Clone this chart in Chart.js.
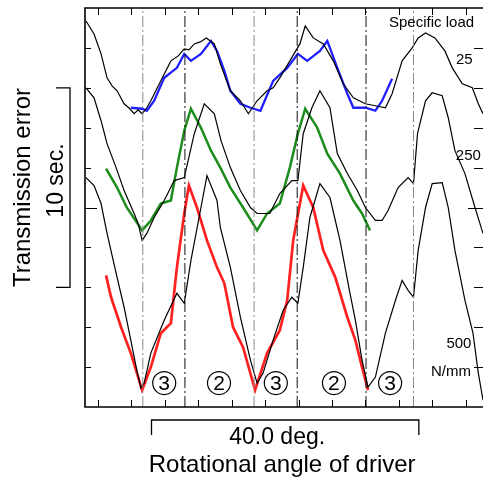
<!DOCTYPE html>
<html>
<head>
<meta charset="utf-8">
<script src="https://cdn.jsdelivr.net/npm/chart.js@4.4.0/dist/chart.umd.min.js"></script>
<style>
html, body { margin: 0; padding: 0; background: #fff; overflow: hidden; }
canvas { display: block; }
</style>
</head>
<body>
<canvas id="chart" width="483" height="479"></canvas>
<script>
// x: rotational angle of driver (deg), y: transmission error (sec)

// measured, specific load 25 N/mm
const load25 = [[-1.8,19.35],[-0.6,18.7],[0.45,17.7],[1.35,16.5],[2.1,16.1],[2.85,15.85],[3.9,15.2],[4.6,15.0],[5.4,14.7],
  [6.0,14.9],[6.6,14.7],[7.3,15.0],[7.9,15.35],[9.4,16.35],[10.9,17.35],[12.0,17.6],[12.9,17.95],[13.6,17.9],[14.4,18.2],
  [15.3,18.3],[16.2,18.5],[17.4,18.2],[18.3,17.2],[19.8,15.85],[21.3,15.35],[22.5,14.7],[23.8,15.35],[25.3,15.85],
  [26.2,16.0],[27.2,16.5],[28.7,17.35],[30.2,18.2],[31.0,19.1],[32.2,18.5],[33.7,18.2],[35.2,17.35],[36.7,16.2],
  [38.2,15.5],[40.0,15.2],[41.5,15.1],[43.0,15.0],[44.0,15.7],[45.5,17.35],[47.0,18.0],[47.9,18.5],[49.0,18.75],
  [50.4,18.5],[51.9,17.85],[53.0,17.0],[54.5,16.2],[56.0,16.0],[56.9,15.2],[57.6,14.7]];

// measured, specific load 250 N/mm
const load250 = [[-1.8,16.0],[-0.6,15.5],[0.45,14.35],[1.35,13.2],[2.7,12.0],[3.9,10.85],[5.4,9.7],[6.0,9.2],[6.6,8.35],
  [7.3,8.7],[8.4,9.5],[9.9,10.35],[11.4,11.35],[12.9,11.5],[14.4,13.7],[15.9,15.2],[17.4,14.7],[18.4,13.35],
  [19.8,12.0],[21.3,10.85],[22.8,10.0],[23.8,9.7],[25.7,9.7],[27.2,10.7],[29.0,11.35],[29.9,11.35],[30.7,13.7],
  [32.0,15.0],[33.2,15.85],[34.7,15.0],[35.8,12.7],[37.3,11.7],[38.8,10.85],[40.0,10.0],[41.5,9.35],[42.5,9.35],
  [43.4,9.85],[44.9,11.0],[46.4,11.5],[47.2,11.2],[47.8,13.7],[49.0,15.35],[50.0,15.75],[51.5,15.6],[52.4,14.5],
  [53.4,12.85],[54.9,11.7],[56.4,10.0],[57.6,8.7]];

// measured, specific load 500 N/mm
const load500 = [[-1.8,11.5],[-0.6,11.1],[0.45,10.2],[1.35,8.7],[2.85,6.5],[3.9,5.0],[4.9,3.35],[5.8,1.85],
  [6.4,0.95],[6.9,1.2],[7.9,2.7],[9.9,4.35],[11.8,5.7],[12.9,5.2],[13.9,7.35],[15.4,10.0],[16.3,11.6],[17.8,10.35],
  [18.3,9.0],[19.8,7.0],[21.3,4.5],[22.8,2.35],[23.8,1.2],[24.7,1.7],[26.2,3.35],[27.7,4.85],[29.0,5.5],[29.9,5.2],
  [30.7,7.0],[31.7,9.5],[33.2,11.2],[34.7,10.5],[36.2,8.35],[37.7,5.7],[38.5,4.35],[39.5,2.35],[40.4,1.0],
  [41.5,1.5],[43.0,3.7],[44.5,5.35],[45.5,6.35],[46.4,5.85],[47.2,5.5],[47.9,7.85],[49.0,10.0],[50.0,11.2],
  [51.5,11.25],[52.4,10.0],[53.4,7.85],[54.9,5.35],[56.1,3.7],[56.9,1.7],[57.6,0.35]];

// calculated curves
const calc25 = [[4.9,15.0],[6.6,14.95],[7.3,14.85],[8.4,15.35],[9.9,16.5],[11.8,17.0],[12.9,17.7],[13.9,17.35],
  [15.4,17.7],[16.9,18.35],[17.8,17.85],[18.9,16.85],[19.8,15.85],[21.3,15.2],[22.8,15.0],[24.3,14.85],[26.2,16.35],
  [28.3,17.0],[29.9,17.7],[31.3,17.35],[33.2,17.85],[34.3,18.35],[35.8,17.0],[37.3,15.7],[38.2,15.0],[40.0,15.0],
  [41.5,14.85],[42.5,15.35],[44.0,16.45]];

const calc250 = [[1.2,11.95],[2.85,11.0],[4.3,10.0],[6.6,8.85],[7.9,9.35],[9.4,10.2],[10.9,10.35],[11.8,12.0],
  [12.9,13.85],[13.9,14.95],[15.4,14.0],[16.9,12.85],[18.3,12.0],[19.8,11.0],[21.7,10.0],[23.8,8.85],[25.3,9.7],
  [27.2,10.2],[28.7,12.0],[29.9,13.7],[31.0,14.95],[32.8,14.0],[34.3,12.7],[36.2,11.7],[38.2,10.35],[39.5,9.7],
  [40.7,8.85]];

const calc500 = [[1.2,6.6],[1.95,5.5],[3.45,4.0],[4.9,2.7],[6.6,0.85],[7.9,2.0],[9.4,3.7],[10.9,4.2],[11.8,7.0],
  [12.9,9.7],[13.6,11.1],[14.8,10.0],[16.3,8.35],[17.8,7.0],[18.9,6.2],[20.2,4.0],[21.7,3.0],[23.5,0.85],[25.3,2.7],
  [27.2,3.85],[28.3,5.35],[29.2,8.35],[30.7,11.1],[32.2,10.0],[33.7,7.85],[35.5,6.5],[37.3,4.5],[38.5,3.35],
  [39.5,2.0],[40.4,0.85]];

// dash-dot mesh boundaries (deg)
const meshLines = [6.7, 13.0, 23.35, 29.8, 40.1, 47.2];

// contact zones marked at the bottom
const zoneX = [9.9, 18.1, 26.6, 35.3, 43.7];
const zoneLabels = ['3', '2', '3', '2', '3'];

// tick values
const xTicks = [0, 5, 10, 15, 20, 25, 30, 35, 40, 45, 50, 55];
const yTicks = [2, 4, 6, 8, 10, 12, 14, 16, 18];

// scale bars
const timeBar = [6, 16];      // 10 sec
const angleBar = [8, 48];     // 40.0 deg

// load labels at right side
const loadLabels = ['Specific load', '25', '250', '500', 'N/mm'];
const loadLabelX = [49.9, 54.8, 55.4, 54.0, 52.8];
const loadLabelY = [19.25, 17.4, 12.6, 3.15, 1.75];

const FONT = "'Liberation Sans', Arial, sans-serif";
const meshColors = ['#8a8a8a', '#111', '#8a8a8a', '#111', '#111', '#8a8a8a'];

function pts(arr) {
    return arr.map(p => ({ x: p[0], y: p[1] }));
}

function curve(label, arr, color, width) {
    return {
        label: label,
        data: pts(arr),
        borderColor: color,
        borderWidth: width,
        pointRadius: 0,
        tension: 0,
        fill: false
    };
}

const datasets = [];
meshLines.forEach((v, i) => {
    datasets.push({
        label: 'mesh' + i,
        data: [{ x: v, y: 0 }, { x: v, y: 20 }],
        borderColor: meshColors[i],
        borderWidth: 1,
        borderDash: [11, 3, 2, 3],
        pointRadius: 0
    });
});
datasets.push(curve('25 N/mm', load25, '#000', 1.2));
datasets.push(curve('250 N/mm', load250, '#000', 1.2));
datasets.push(curve('500 N/mm', load500, '#000', 1.2));
datasets.push(curve('calc 25', calc25, '#1f1fff', 2.3));
datasets.push(curve('calc 250', calc250, '#1c8c1c', 2.5));
datasets.push(curve('calc 500', calc500, '#ff2020', 2.7));

/**
 * 外框、内向刻度、标尺和文字
 */
const decorPlugin = {
    id: 'decor',
    afterDraw(chart) {
        const { ctx, chartArea: a } = chart;
        const xs = chart.scales.x;
        const ys = chart.scales.y;
        ctx.save();

        // frame (no right border)
        ctx.strokeStyle = '#000';
        ctx.lineWidth = 1.6;
        ctx.beginPath();
        ctx.moveTo(a.right + 2, a.top);
        ctx.lineTo(a.left, a.top);
        ctx.lineTo(a.left, a.bottom);
        ctx.lineTo(a.right + 2, a.bottom);
        ctx.stroke();

        // inward ticks
        ctx.lineWidth = 1;
        ctx.beginPath();
        xTicks.forEach(v => {
            const px = Math.round(xs.getPixelForValue(v)) + 0.5;
            ctx.moveTo(px, a.top); ctx.lineTo(px, a.top + 7);
            ctx.moveTo(px, a.bottom); ctx.lineTo(px, a.bottom - 7);
        });
        yTicks.forEach(v => {
            const py = Math.round(ys.getPixelForValue(v)) + 0.5;
            const len = v === 10 ? 12 : 6;
            ctx.moveTo(a.left, py); ctx.lineTo(a.left + len, py);
            ctx.moveTo(a.right, py); ctx.lineTo(a.right - len - 3, py);
        });
        ctx.stroke();

        // time scale bar
        const bx = a.left - 15;
        const by0 = ys.getPixelForValue(timeBar[0]);
        const by1 = ys.getPixelForValue(timeBar[1]);
        ctx.lineWidth = 1.3;
        ctx.beginPath();
        ctx.moveTo(bx - 14, by1); ctx.lineTo(bx, by1); ctx.lineTo(bx, by0); ctx.lineTo(bx - 14, by0);
        ctx.stroke();

        // angle scale bar
        const hy = a.bottom + 13;
        const hx0 = xs.getPixelForValue(angleBar[0]);
        const hx1 = xs.getPixelForValue(angleBar[1]);
        ctx.beginPath();
        ctx.moveTo(hx0, hy + 15); ctx.lineTo(hx0, hy); ctx.lineTo(hx1, hy); ctx.lineTo(hx1, hy + 15);
        ctx.stroke();

        ctx.fillStyle = '#000';
        ctx.textAlign = 'center';
        ctx.textBaseline = 'middle';

        // circled zone numbers
        const zy = ys.getPixelForValue(1.2);
        ctx.lineWidth = 1.2;
        zoneX.forEach((v, i) => {
            const zx = xs.getPixelForValue(v);
            ctx.beginPath();
            ctx.arc(zx, zy, 11.5, 0, Math.PI * 2);
            ctx.stroke();
            ctx.font = '21px ' + FONT;
            ctx.fillText(zoneLabels[i], zx, zy + 1);
        });

        // load labels
        ctx.font = '15px ' + FONT;
        loadLabels.forEach((t, i) => {
            ctx.fillText(t, xs.getPixelForValue(loadLabelX[i]), ys.getPixelForValue(loadLabelY[i]));
        });

        // axis titles
        ctx.font = '23px ' + FONT;
        ctx.fillText('40.0 deg.', (hx0 + hx1) / 2 - 8, hy + 18);
        ctx.font = '24px ' + FONT;
        ctx.fillText('Rotational angle of driver', (hx0 + hx1) / 2 - 3, hy + 45);

        ctx.save();
        ctx.translate(bx - 13, (by0 + by1) / 2 - 7);
        ctx.rotate(-Math.PI / 2);
        ctx.font = '23px ' + FONT;
        ctx.fillText('10 sec.', 0, 0);
        ctx.restore();

        ctx.save();
        ctx.translate(23, (by0 + by1) / 2);
        ctx.rotate(-Math.PI / 2);
        ctx.font = '24px ' + FONT;
        ctx.fillText('Transmission error', 0, 0);
        ctx.restore();

        ctx.restore();
    }
};

new Chart(document.getElementById('chart').getContext('2d'), {
    type: 'line',
    data: { datasets: datasets },
    options: {
        responsive: false,
        animation: false,
        layout: { padding: { left: 85, top: 8, right: 0, bottom: 72 } },
        plugins: {
            legend: { display: false },
            tooltip: { enabled: false }
        },
        scales: {
            x: { type: 'linear', min: -1.95, max: 57.6, display: false },
            y: { type: 'linear', min: 0, max: 20, display: false }
        }
    },
    plugins: [decorPlugin]
});
</script>
</body>
</html>
